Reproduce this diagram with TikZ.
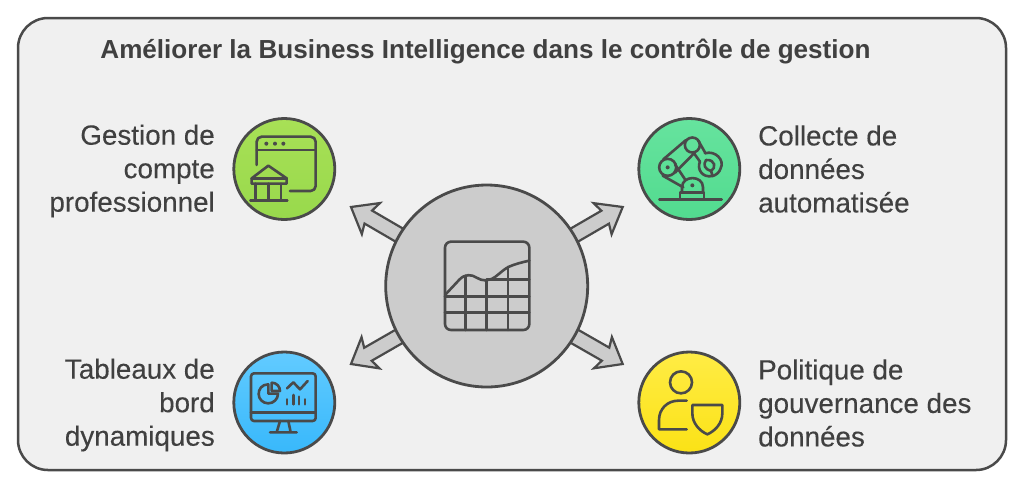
\documentclass[tikz,border=0pt]{standalone}
\usepackage{fontspec}
\setmainfont{Liberation Sans}
\newfontfamily\labfont{Liberation Sans}[FakeBold=0.2]
\usetikzlibrary{calc,backgrounds}
\definecolor{ink}{HTML}{4A4A4A}
\definecolor{txt}{HTML}{404040}
\definecolor{panelc}{HTML}{F0F0F0}
\definecolor{hubc}{HTML}{CCCCCC}
\definecolor{gt}{HTML}{A8E056}\definecolor{gb}{HTML}{98D94C}
\definecolor{tt}{HTML}{66E39E}\definecolor{tb}{HTML}{52DB8F}
\definecolor{bt}{HTML}{62CBFF}\definecolor{bb}{HTML}{38B8FB}
\definecolor{yt}{HTML}{FFEC45}\definecolor{yb}{HTML}{FBE216}
\tikzset{
  panel/.style={draw=ink,line width=2.5pt,fill=panelc,rounded corners=30pt},
  sat/.style={circle,draw=ink,line width=2.8pt,minimum size=101pt,inner sep=0pt},
  hubnode/.style={circle,draw=ink,line width=2.8pt,fill=hubc,minimum size=202pt,inner sep=0pt},
  lab/.style={text=txt,font=\labfont\fontsize{27.8}{33.5}\selectfont,inner sep=0pt},
  titletxt/.style={text=txt,font=\bfseries\fontsize{26.1}{30}\selectfont,inner sep=0pt},
  arrowshape/.style={draw=ink,line width=2.2pt,fill=hubc,line join=miter},
  ico/.style={draw=ink,line width=2.6pt,line cap=round,line join=round},
  zoomed/.style={x=0.33333pt,y=-0.33333pt},
}
\newcommand{\blockarrow}[2]{%
  \coordinate (ba) at ($(#1)!97pt!(#2)$);
  \coordinate (bb) at ($(#1)!137pt!(#2)$);
  \coordinate (bc) at ($(#1)!134pt!(#2)$);
  \draw[arrowshape]
    ($(ba)!7.5pt!90:(#2)$) -- ($(bb)!7.5pt!90:(#2)$) -- ($(bc)!18pt!90:(#2)$) -- (#2)
    -- ($(bc)!18pt!-90:(#2)$) -- ($(bb)!7.5pt!-90:(#2)$) -- ($(ba)!7.5pt!-90:(#2)$);}
\begin{document}
\begin{tikzpicture}[x=1pt,y=-1pt]
\useasboundingbox (0,0) rectangle (1024,488);
\node[titletxt] (title) at (485.5,52) {Améliorer la Business Intelligence dans le contrôle de gestion};

\node[hubnode] (hub) at (486.7,286) {};
\coordinate (tipA) at (351,207);
\coordinate (tipB) at (622.7,207);
\coordinate (tipC) at (351,364);
\coordinate (tipD) at (622.7,364);
\begin{scope}[on background layer]
\fill[white] (0,0) rectangle (1024,488);
\draw[panel] (18,18) rectangle (1006,470);
\blockarrow{hub.center}{tipA}
\blockarrow{hub.center}{tipB}
\blockarrow{hub.center}{tipC}
\blockarrow{hub.center}{tipD}
\end{scope}

\node[sat,top color=gt,bottom color=gb] at (284.3,169) (s1) {};
\node[sat,top color=tt,bottom color=tb] at (689.3,169) (s2) {};
\node[sat,top color=bt,bottom color=bb] at (284.3,402.5) (s3) {};
\node[sat,top color=yt,bottom color=yb] at (689.3,402.5) (s4) {};

\node[lab,anchor=east,align=right] (l1) at (215,171) {Gestion de\\compte\\professionnel};
\node[lab,anchor=west,align=left] (l2) at (758,169) {Collecte de\\données\\automatisée};
\node[lab,anchor=east,align=right] (l3) at (215,405) {Tableaux de\\bord\\dynamiques};
\node[lab,anchor=west,align=left] (l4) at (758,403) {Politique de\\gouvernance des\\données};

% hub icon
\begin{scope}[shift={(340,175)},zoomed,ico]
\draw[rounded corners=6pt] (315,200) rectangle (568,465);
\draw (315,360) -- (358,314) .. controls (375,296) and (395,298) .. (410,308)
  .. controls (425,318) and (445,320) .. (465,306) .. controls (480,295) and (490,284) .. (505,276) .. controls (525,267) and (545,262) .. (568,257);
\draw (377,302) -- (377,465) (440,316) -- (440,465) (504,276) -- (504,465);
\draw (440,313) -- (568,313) (315,365) -- (568,365) (315,413) -- (568,413);
\end{scope}

% bank window
\begin{scope}[shift={(225,110)},zoomed,ico]
\draw[rounded corners=5pt] (95,165) -- (95,80) -- (272,80) -- (272,243) -- (195,243);
\draw (95,120) -- (272,120);
\foreach \dx in {124,150,175} \fill[ink] (\dx,101) circle (2pt);
\draw (130,167) -- (80,205) -- (80,221) -- (185,221) -- (185,205) -- cycle;
\draw (80,205) -- (185,205);
\draw (92,221) -- (92,272) (130,221) -- (130,272) (168,221) -- (168,272);
\draw (76,272) -- (187,272);
\end{scope}

% robot
\begin{scope}[shift={(630,110)},zoomed,ico]
\draw (187,105) circle (7.5pt);
\draw (113,172) circle (8.5pt);
\fill[ink] (113,172) circle (2pt);
\fill[ink] (187,226) circle (2pt);
\draw (168,90) -- (100,148);
\draw (195,127) -- (135,188);
\draw (98,197) -- (160,232);
\draw (135,163) -- (165,208);
\draw (156,248) -- (156,232) .. controls (156,195) and (219,195) .. (219,232) -- (219,248);
\draw (150,268) -- (150,248) -- (222,248) -- (222,268);
\draw (88,268) -- (275,268);
\draw (205,92) -- (225,127) (190,127) -- (210,155);
\draw (225,130) .. controls (255,120) and (285,150) .. (272,175) .. controls (268,188) and (258,195) .. (248,198);
\draw (243,183) .. controls (258,175) and (258,148) .. (228,150) .. controls (218,165) and (225,178) .. (243,183);
\draw (210,155) .. controls (200,175) and (215,205) .. (248,198) -- (243,183);
\end{scope}

% dashboard
\begin{scope}[shift={(225,345)},zoomed,ico]
\draw[rounded corners=3pt] (78,85) rectangle (272,228);
\draw (78,203) -- (272,203);
\draw (165,228) -- (155,262) (190,228) -- (197,262) (135,262) -- (215,262);
\draw (130,118) .. controls (110,118) and (101,133) .. (101,147) .. controls (101,162) and (113,175) .. (130,175) .. controls (146,175) and (159,162) .. (159,146) -- (130,146) -- cycle;
\draw (140,113) -- (140,138) -- (165,138) .. controls (165,125) and (155,113) .. (140,113);
\draw (186,130) -- (205,112) -- (225,133) -- (248,108);
\draw (186,163) -- (186,178) (205,150) -- (205,178) (222,155) -- (222,178) (240,163) -- (240,178);
\end{scope}

% person shield
\begin{scope}[shift={(630,345)},zoomed,ico]
\draw (153,112) circle (11pt);
\draw (170,167) -- (145,167) .. controls (112,167) and (87,192) .. (87,225) -- (87,253) -- (170,253);
\draw (187,180) -- (277,180) -- (277,205) .. controls (277,235) and (255,258) .. (232,268)
  .. controls (209,258) and (187,235) .. (187,205) -- cycle;
\end{scope}
\end{tikzpicture}
\end{document}
